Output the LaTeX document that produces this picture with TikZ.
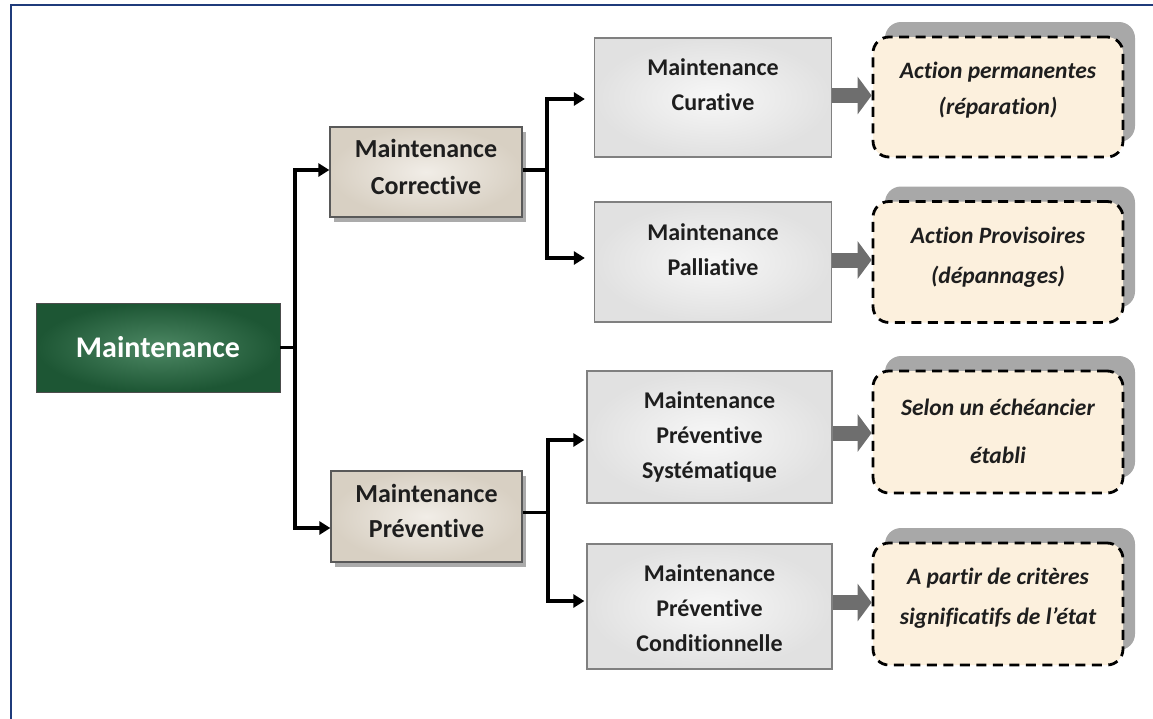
\documentclass[tikz,border=0pt]{standalone}
\usepackage{fontspec}
\setmainfont{Carlito}[Ligatures=NoCommon]
\usetikzlibrary{arrows.meta,shadows}

\definecolor{framblue}{HTML}{1F3B7B}
\definecolor{greenout}{HTML}{1D5634}
\definecolor{greenin}{HTML}{4D8864}
\definecolor{beigeout}{HTML}{D8D0C3}
\definecolor{beigein}{HTML}{F1EDE7}
\definecolor{greyout}{HTML}{E1E1E1}
\definecolor{greyin}{HTML}{F7F7F7}
\definecolor{creamfill}{HTML}{FCF0DD}
\definecolor{backshade}{HTML}{A8A8A8}
\definecolor{flowgrey}{HTML}{6E6E6E}
\definecolor{inktext}{HTML}{1E1E1E}

\tikzset{
  rootbox/.style={draw=black!70, line width=0.8pt, inner sep=0pt,
    shading=radial, inner color=greenin, outer color=greenout,
    text=white, font=\fontsize{30}{36}\selectfont\bfseries},
  familybox/.style={draw=black!65, line width=1.3pt, inner sep=0pt,
    shading=radial, inner color=beigein, outer color=beigeout,
    drop shadow={shadow xshift=4pt, shadow yshift=-5pt, fill=black!60, opacity=.55}},
  kindbox/.style={draw=black!50, line width=1.3pt, inner sep=0pt,
    shading=radial, inner color=greyin, outer color=greyout},
  actionbox/.style={draw=black, line width=2.8pt, dash pattern=on 10pt off 6.5pt,
    rounded corners=16pt, fill=creamfill, inner sep=0pt,
    general shadow={fill=backshade, shadow xshift=12pt, shadow yshift=15pt}},
  familytext/.style={text=inktext, align=center, font=\fontsize{26}{37}\selectfont\bfseries},
  kindtext/.style={text=inktext, align=center, font=\fontsize{24}{35}\selectfont\bfseries},
  actiontext/.style={text=inktext, align=center, font=\bfseries\itshape},
  conn/.style={line width=3.5pt, -{Triangle[length=11pt,width=13pt]}},
  flow/.style={draw=flowgrey, line width=15pt, -{Triangle[length=14pt,width=37pt]}},
}

\begin{document}
\begin{tikzpicture}[x=1pt,y=-1pt]
\useasboundingbox (0,0) rectangle (1153,718);

% outer frame
\draw[framblue, line width=2.2pt] (11,725) -- (11,5) -- (1160,5);

% root
\node[rootbox, minimum width=244pt, minimum height=89pt] (main) at (158,347.5) {Maintenance};

% two families
\node[familybox, minimum width=192pt, minimum height=90pt] (corr) at (426,172) {};
\node[familytext] (corrt) at (426,166.5) {Maintenance\\Corrective};
\node[familybox, minimum width=191pt, minimum height=91pt] (prev) at (426.5,516.5) {};
\node[familytext, font=\fontsize{26}{35}\selectfont\bfseries] (prevt) at (426.5,510.5) {Maintenance\\Préventive};

% four kinds
\node[kindbox, minimum width=237pt, minimum height=119pt] (cur) at (713,97.5) {};
\node[kindtext] (curt) at (713,85) {Maintenance\\Curative};
\node[kindbox, minimum width=237pt, minimum height=120pt] (pal) at (713,262) {};
\node[kindtext] (palt) at (713,249.5) {Maintenance\\Palliative};
\node[kindbox, minimum width=245pt, minimum height=132pt] (sys) at (709.5,437) {};
\node[kindtext] (syst) at (709.5,437) {Maintenance\\Préventive\\Systématique};
\node[kindbox, minimum width=245pt, minimum height=125pt] (cond) at (709.5,606.5) {};
\node[kindtext] (condt) at (709.5,608) {Maintenance\\Préventive\\Conditionnelle};

% actions
\node[actionbox, minimum width=250pt, minimum height=120pt] (a1) at (998,97) {};
\node[actiontext, font=\fontsize{23.5}{36}\selectfont\bfseries\itshape] (a1t) at (998,90) {Action permanentes\\(réparation)};
\node[actionbox, minimum width=250pt, minimum height=121pt] (a2) at (998,262) {};
\node[actiontext, font=\fontsize{23.5}{40}\selectfont\bfseries\itshape] (a2t) at (998,257) {Action Provisoires\\(dépannages)};
\node[actionbox, minimum width=250pt, minimum height=122pt] (a3) at (998,432) {};
\node[actiontext, font=\fontsize{23.5}{48}\selectfont\bfseries\itshape] (a3t) at (998,431) {Selon un échéancier\\établi};
\node[actionbox, minimum width=250pt, minimum height=122pt] (a4) at (998,604) {};
\node[actiontext, font=\fontsize{23.5}{40}\selectfont\bfseries\itshape] (a4t) at (998,598) {A partir de critères\\significatifs de l’état};

% branching connectors
\coordinate (j1) at (295,347.5);
\coordinate (j2) at (547,170);
\coordinate (j3) at (548,512);

\draw[line width=3.5pt] (main.east) -- (j1);
\draw[conn] ([yshift=-0.1pt]j1) |- ([yshift=2pt]corr.west);
\draw[conn] ([yshift=0.1pt]j1) |- ([yshift=-11.5pt]prev.west);

\draw[line width=3.5pt] ([yshift=2pt]corr.east) -- (j2);
\draw[conn, shorten >=9pt] ([yshift=-0.1pt]j2) |- ([yshift=-1.5pt]cur.west);
\draw[conn, shorten >=9pt] ([yshift=0.1pt]j2) |- ([yshift=4pt]pal.west);

\draw[line width=3pt] ([yshift=4.5pt]prev.east) -- (j3);
\draw[conn, shorten >=2pt] ([yshift=-0.1pt]j3) |- ([yshift=-3pt]sys.west);
\draw[conn, shorten >=2pt] ([yshift=0.1pt]j3) |- ([yshift=5.5pt]cond.west);

% grey flow arrows
\draw[flow] ([yshift=2pt]cur.east) -- ([yshift=2pt]cur.east -| a1.west);
\draw[flow] ([yshift=2pt]pal.east) -- ([yshift=2pt]pal.east -| a2.west);
\draw[flow] ([yshift=4pt]sys.east) -- ([yshift=4pt]sys.east -| a3.west);
\draw[flow] ([yshift=4pt]cond.east) -- ([yshift=4pt]cond.east -| a4.west);
\end{tikzpicture}
\end{document}
